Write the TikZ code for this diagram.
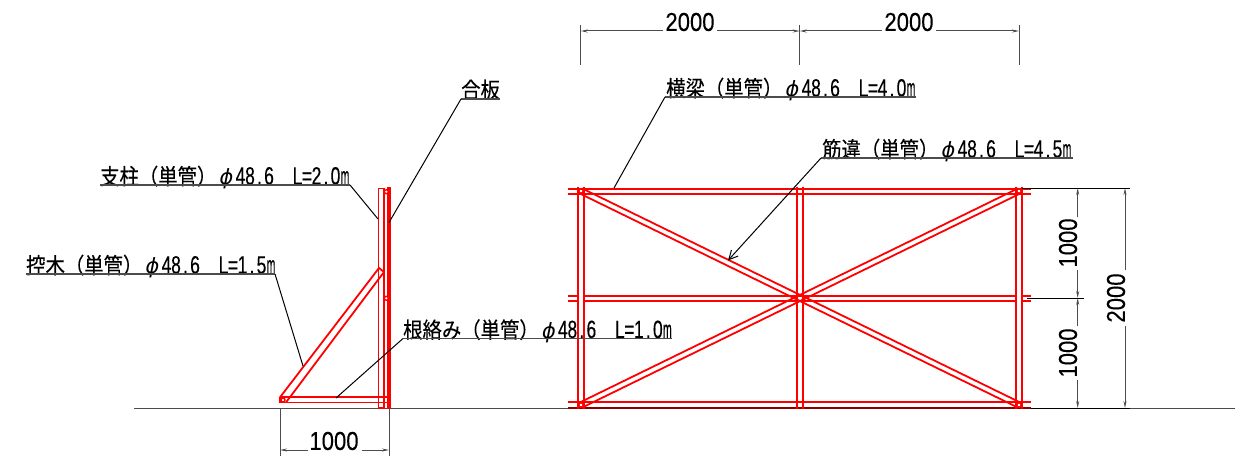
\documentclass[tikz,border=0pt]{standalone}
\usepackage{fontspec}
\usetikzlibrary{calc,arrows.meta}
\newfontfamily\cjkf[FakeBold=0.2,FakeStretch=0.88]{Noto Sans CJK JP}
\newfontfamily\latf[FakeStretch=0.70,FakeBold=0.2]{Liberation Sans}
\newfontfamily\dimf[FakeStretch=0.85,FakeBold=0.2]{Liberation Sans}
\newfontfamily\phif[FakeSlant=0.2]{DejaVu Sans}
\newcommand{\hwx}[1]{\ifx#1\relax\else\ifx#1m\hbox to 9.5pt{\hss\scalebox{.6}[1]{m}\hss}\else\hbox to 9.5pt{\hss #1\hss}\fi\expandafter\hwx\fi}
\newcommand{\hw}[1]{{\latf\fontsize{25}{25}\selectfont\hwx#1\relax}}
\newcommand{\lbl}[2]{\hbox{{\cjkf\fontsize{22}{22}\selectfont #1}\hbox to 18pt{\hss{\phif\fontsize{21}{21}\selectfont ϕ}\hss}\hskip1.4pt\hw{48.6}\hskip19pt\hw{#2}}}
\newcommand{\pipe}[3][2.8pt]{\draw[redl] ($#2!#1!90:#3$) -- ($#3!#1!-90:#2$); \draw[redl] ($#2!#1!-90:#3$) -- ($#3!#1!90:#2$);}
\tikzset{
  redl/.style={draw=red,line width=1.8pt},
  leader/.style={draw=black,line width=1pt},
  uline/.style={draw=black!70,line width=1.1pt},
  dimline/.style={draw=black!70,line width=1pt},
  dimarrow/.style={dimline,-{Stealth[length=7pt,width=3pt]}},
  txt/.style={inner sep=0pt,anchor=base west,text=black},
  dimtxt/.style={inner sep=0pt,text=black,font=\dimf\fontsize{26}{26}\selectfont},
  knot/.style={draw=red,line width=1.4pt,fill=white}
}
\begin{document}
\begin{tikzpicture}[x=1pt,y=-1pt]
\useasboundingbox (0,0) rectangle (1240,460);
% ground
\draw[dimline] (134,408) -- (1235,408);
% ---- side view ----
\draw[redl] (378.4,408) -- (378.4,188.4) -- (384,188.4) -- (384,408) -- cycle;
\draw[red,line width=3.4pt] (389,187) -- (389,409);
\draw[redl] (280,397.3) -- (389,397.3);
\draw[redl] (280,402.4) -- (389,402.4);
\draw[redl] (280,396.6) -- (280,403);
\draw[redl] (280,397.3) -- (379,268) -- (384,272) -- (286,402.4);
\draw[knot] (283,400) circle (2);
\draw[knot] (386.3,191.7) circle (2);
\draw[knot] (386.3,298.3) circle (2);
% ---- front view ----
\foreach \y in {188.7,194,402.3} \draw[redl] (568,\y) -- (1031,\y);
\foreach \y in {295.6,301} {\draw[redl] (568,\y) -- (578,\y); \draw[redl] (583.6,\y) -- (1016,\y); \draw[redl] (1021.6,\y) -- (1031,\y);}
\draw[draw=red!55!black,line width=1.8pt] (568,408) -- (1031,408);
\foreach \x in {578.3,583.6,796.8,802.6,1016,1021.6} \draw[redl] (\x,186.5) -- (\x,408.5);
\coordinate (tl) at (581,191);
\coordinate (tr) at (1019,191);
\coordinate (bl) at (581,405);
\coordinate (br) at (1019,405);
\coordinate (ctr) at (800,298);
\pipe{(tl)}{(ctr)}
\pipe{(tr)}{(ctr)}
\pipe{(bl)}{(ctr)}
\pipe{(br)}{(ctr)}
\draw[knot,fill=none] (tl) circle (2.2);
\draw[knot,fill=none] (tr) circle (2.2);
\draw[knot,fill=none] (bl) circle (2.2);
\draw[knot,fill=none] (br) circle (2.2);
\draw[knot,fill=none] (ctr) circle (3);
% ---- labels with leaders ----
\node[txt] (goita) at (461,98) {\cjkf\fontsize{22}{22}\selectfont 合板};
\coordinate (goitaA) at (461,99); \coordinate (goitaB) at (500,99); \coordinate (goitaT) at (389,222.5);
\draw[uline] (goitaB) -- (goitaA); \draw[leader] (goitaA) -- (goitaT);

\node[txt] (shichu) at (100,184.5) {\lbl{支柱（単管）}{L=2.0m}};
\coordinate (shichuA) at (350,185); \coordinate (shichuB) at (100,185); \coordinate (shichuT) at (378,219);
\draw[uline] (shichuB) -- (shichuA); \draw[leader] (shichuA) -- (shichuT);

\node[txt] (hikae) at (26,273.5) {\lbl{控木（単管）}{L=1.5m}};
\coordinate (hikaeA) at (275,274); \coordinate (hikaeB) at (26,274); \coordinate (hikaeT) at (303,366);
\draw[uline] (hikaeB) -- (hikaeA); \draw[leader] (hikaeA) -- (hikaeT);

\node[txt] (nerami) at (403,338) {\lbl{根絡み（単管）}{L=1.0m}};
\coordinate (neramiA) at (403,338.5); \coordinate (neramiB) at (672,338.5); \coordinate (neramiT) at (336,398);
\draw[uline] (neramiB) -- (neramiA); \draw[leader] (neramiA) -- (neramiT);

\node[txt] (yokobari) at (666,96.5) {\lbl{横梁（単管）}{L=4.0m}};
\coordinate (yokoA) at (665,97); \coordinate (yokoB) at (916,97); \coordinate (yokoT) at (614,188);
\draw[uline] (yokoB) -- (yokoA); \draw[leader] (yokoA) -- (yokoT);

\node[txt] (sujikai) at (822,157.5) {\lbl{筋違（単管）}{L=4.5m}};
\coordinate (sujiA) at (821,158); \coordinate (sujiB) at (1073,158); \coordinate (sujiT) at (728,260.5);
\draw[uline] (sujiB) -- (sujiA);
\draw[leader,-{Straight Barb[length=9pt,width=9pt]}] (sujiA) -- (sujiT);
% ---- dimensions ----
% bottom 1000
\coordinate (d1a) at (280,450); \coordinate (d1b) at (389,450);
\draw[dimline] (280,408) -- (280,456); \draw[dimline] (389,408) -- (389,456);
\node[dimtxt] (d1) at (334,441) {1000};
\draw[dimarrow] (308,450) -- (d1a); \draw[dimarrow] (362,450) -- (d1b);
% top 2000 2000
\coordinate (d2a) at (580.7,31); \coordinate (d2b) at (799.7,31); \coordinate (d2c) at (1019,31);
\draw[dimline] (580.7,25) -- (580.7,65); \draw[dimline] (799.7,25) -- (799.7,65); \draw[dimline] (1019,25) -- (1019,65);
\node[dimtxt] (d2) at (690,22) {2000};
\node[dimtxt] (d3) at (909,22) {2000};
\draw[dimarrow] (663,31) -- (d2a); \draw[dimarrow] (717,31) -- (d2b);
\draw[dimarrow] (882,31) -- (d2b); \draw[dimarrow] (936,31) -- (d2c);
% right
\draw[leader] (1022,188) -- (1130,188);
\draw[leader] (1027,298) -- (1084,298);
\draw[leader] (1031,408) -- (1130,408);
\coordinate (r1) at (1077.7,188); \coordinate (r2) at (1077.7,298); \coordinate (r3) at (1077.7,408);
\coordinate (s1) at (1125,188); \coordinate (s3) at (1125,408);
\node[dimtxt,rotate=90] (d4) at (1068,243) {1000};
\node[dimtxt,rotate=90] (d5) at (1068,353) {1000};
\node[dimtxt,rotate=90] (d6) at (1116,298) {2000};
\draw[dimarrow] (1077.7,217) -- (r1); \draw[dimarrow] (1077.7,270) -- (r2);
\draw[dimarrow] (1077.7,326) -- (r2); \draw[dimarrow] (1077.7,380) -- (r3);
\draw[dimarrow] (1125,270) -- (s1); \draw[dimarrow] (1125,326) -- (s3);
\end{tikzpicture}
\end{document}
